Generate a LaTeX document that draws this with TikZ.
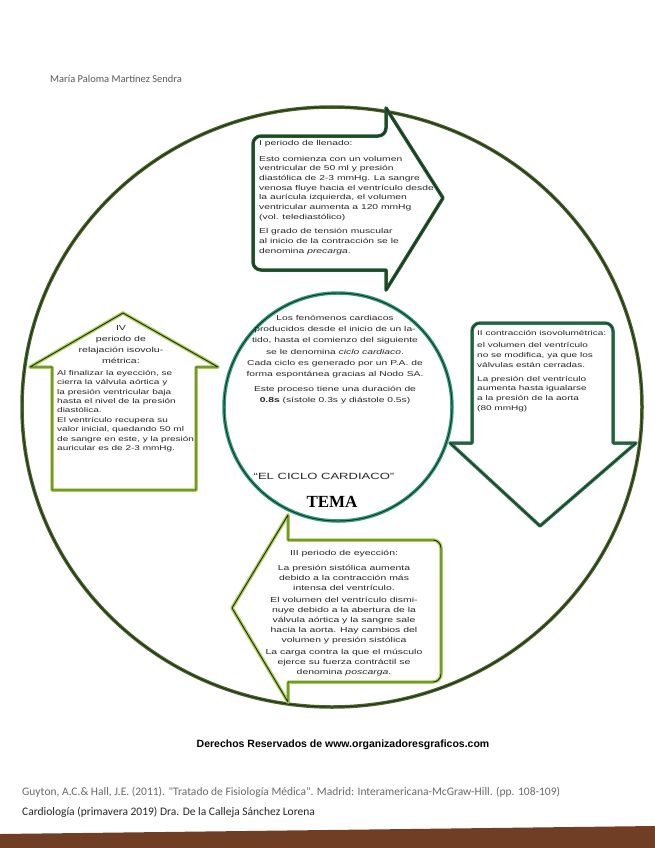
\documentclass[tikz,border=0pt]{standalone}
\usepackage{fontspec}
\setmainfont{Liberation Sans}
\newfontfamily\hand[FakeStretch=1.45]{Liberation Sans}
\newfontfamily\calibri{Carlito}
\newfontfamily\temafont{Liberation Serif}
\usetikzlibrary{positioning}
\definecolor{rimgreen}{RGB}{70,105,35}
\definecolor{fillgreen}{RGB}{30,95,45}
\definecolor{contractgreen}{RGB}{45,125,80}
\definecolor{limegreen}{RGB}{165,208,75}
\definecolor{hubgreen}{RGB}{40,160,120}
\definecolor{inkblack}{RGB}{38,38,38}
\definecolor{printgray}{RGB}{105,105,105}
\definecolor{tablebrown}{RGB}{112,62,36}
\tikzset{
  inked/.style={
    draw=#1,
    line width=3.5pt,
    line join=round,
    postaction={draw=inkblack, line width=0.9pt}
  },
  inknote/.style={
    align=left,
    inner sep=0pt,
    anchor=north west,
    text=inkblack
  },
  printed/.style={
    inner sep=0pt,
    font=\calibri\fontsize{11.5}{13}\selectfont
  }
}

\begin{document}
\begin{tikzpicture}[x=1pt, y=-1pt]
\useasboundingbox (0,0) rectangle (655,848);
\fill[white] (0,0) rectangle (655,848);
\fill[tablebrown] (0,834) -- (655,826) -- (655,848) -- (0,848) -- cycle;

\draw[inked=rimgreen] (332,407) ellipse [x radius=310, y radius=300];

\path[inked=fillgreen, fill=white] (253,200) [rounded corners=8] -- (253,136) -- (386,136) [sharp corners] -- (386,108) -- (443,198) -- (386,290) -- (386,270) [rounded corners=8] -- (253,270) -- cycle;
\path[inked=contractgreen, fill=white] (542,323) [rounded corners=8] -- (613,323) [sharp corners] -- (613,443) -- (636,443) -- (540,526) -- (450,443) -- (472,443) [rounded corners=8] -- (472,323) -- cycle;
\path[inked=limegreen, fill=white] (365,540) [rounded corners=8] -- (441,540) -- (441,682) -- (300,682) [sharp corners] -- (288,682) -- (288,702) -- (232,608) -- (288,515) -- (288,540) -- cycle;
\path[inked=limegreen, fill=white] (52,367) -- (30,367) -- (123,313) -- (218,367) -- (196,367) -- (196,490) -- (52,490) -- cycle;

\node[inked=hubgreen, circle, minimum size=228, inner sep=0pt, fill=white] (hub) at (338,407) {};

\node[inknote, font=\hand\fontsize{7.1}{9.7}\selectfont] (fillnote) at (259,140)
{I periodo de llenado:\\[6pt]
Esto comienza con un volumen\\
ventricular de 50 ml y presión\\
diastólica de 2-3 mmHg. La sangre\\
venosa fluye hacia el ventrículo desde\\
la aurícula izquierda, el volumen\\
ventricular aumenta a 120 mmHg\\
(vol. telediastólico)\\[5pt]
El grado de tensión muscular\\
al inicio de la contracción se le\\
denomina \textit{precarga}.};

\node[inknote, font=\hand\fontsize{6.9}{9.7}\selectfont] (contractnote) at (477,330)
{II contracción isovolumétrica:\\[3pt]
el volumen del ventrículo\\
no se modifica, ya que los\\
válvulas están cerradas.\\[4pt]
La presión del ventrículo\\
aumenta hasta igualarse\\
a la presión de la aorta\\
(80 mmHg)};

\node[inknote, align=center, anchor=north, font=\hand\fontsize{7.2}{10}\selectfont] (ejectnote) at (344,550)
{III periodo de eyección:\\[5pt]
La presión sistólica aumenta\\
debido a la contracción más\\
intensa del ventrículo.\\[2pt]
El volumen del ventrículo dismi-\\
nuye debido a la abertura de la\\
válvula aórtica y la sangre sale\\
hacia la aorta. Hay cambios del\\
volumen y presión sistólica\\[2pt]
La carga contra la que el músculo\\
ejerce su fuerza contráctil se\\
denomina \textit{poscarga}.};

\node[inknote, align=center, anchor=north, font=\hand\fontsize{7.3}{11}\selectfont] (relaxtitle) at (121,325)
{IV\\
periodo de\\
relajación isovolu-\\
métrica:};

\node[inknote, font=\hand\fontsize{6.9}{9.4}\selectfont] (relaxnote) at (57,370)
{Al finalizar la eyección, se\\
cierra la válvula aórtica y\\
la presión ventricular baja\\
hasta el nivel de la presión\\
diastólica.\\
El ventrículo recupera su\\
valor inicial, quedando 50 ml\\
de sangre en este, y la presión\\
auricular es de 2-3 mmHg.};

\node[inknote, align=center, anchor=north, font=\hand\fontsize{7.1}{11.2}\selectfont] (hubnote) at (335,315)
{Los fenómenos cardiacos\\
producidos desde el inicio de un la-\\
tido, hasta el comienzo del siguiente\\
se le denomina \textit{ciclo cardiaco}.\\
Cada ciclo es generado por un P.A. de\\
forma espontánea gracias al Nodo SA.\\[4pt]
Este proceso tiene una duración de\\
\textbf{0.8s} (sístole 0.3s y diástole 0.5s)};

\node[inknote, anchor=base, font=\hand\fontsize{9}{10}\selectfont] (topic) at (324,479) {“EL CICLO CARDIACO”};
\node[inner sep=0pt, below=17pt of topic, xshift=8pt, font=\temafont\bfseries\fontsize{17}{17}\selectfont] (tema) {TEMA};

\node[printed, anchor=base west, text=printgray!85!black, font=\calibri\fontsize{10.5}{12}\selectfont] (author) at (50,83) {María Paloma Martínez Sendra};
\node[inner sep=0pt, font=\bfseries\fontsize{10.5}{12}\selectfont] (rights) at (343,745) {Derechos Reservados de www.organizadoresgraficos.com};
\node[printed, anchor=base west, text=printgray] (source) at (22,795) {Guyton, A.C.\& Hall, J.E. (2011). "Tratado de Fisiología Médica". Madrid: Interamericana-McGraw-Hill. (pp. 108-109)};
\node[printed, anchor=base west, text=inkblack] (course) at (22,815) {Cardiología (primavera 2019) Dra. De la Calleja Sánchez Lorena};
\end{tikzpicture}
\end{document}
